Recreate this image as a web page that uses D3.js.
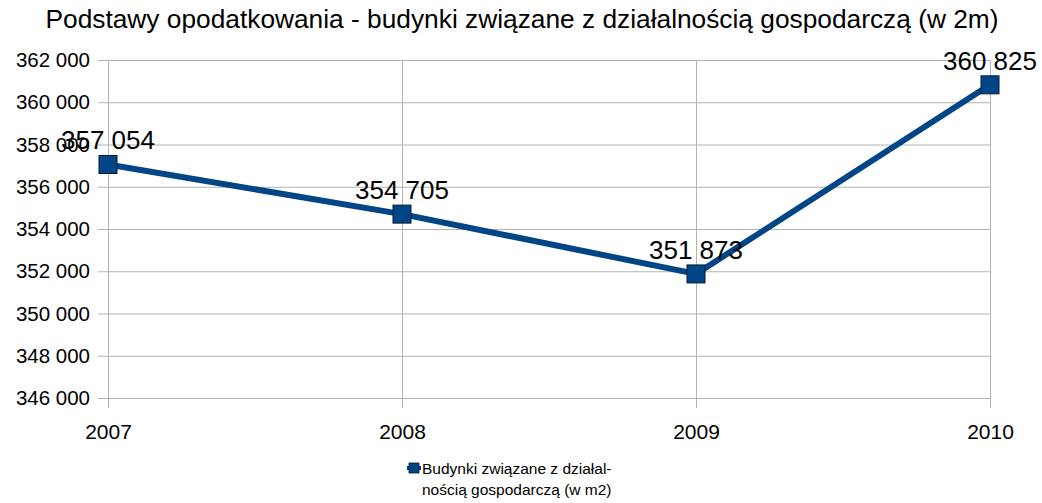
<!DOCTYPE html>
<html><head><meta charset="utf-8">
<script src="https://cdn.jsdelivr.net/npm/d3@7"></script>
<style>body{margin:0;background:#fff}svg{display:block}text{font-family:"Liberation Sans",Arial,sans-serif}</style>
</head><body><svg id="c" width="1042" height="503"></svg>
<script>
const years = ["2007","2008","2009","2010"];
const values = [357054, 354705, 351873, 360825];
const yTicks = [346000,348000,350000,352000,354000,356000,358000,360000,362000];
const title = "Podstawy opodatkowania - budynki związane z działalnością gospodarczą (w 2m)";
const legendLines = ["Budynki związane z działal-", "nością gospodarczą (w m2)"];

const svg = d3.select("#c");
const L = 108, R = 990, T = 60, B = 398;
const x = d3.scalePoint().domain(years).range([L, R]);
const y = d3.scaleLinear().domain([346000, 362000]).range([B, T]);
const fmt = v => d3.format(",")(v).replace(/,/g, " ");
const grid = "#b3b3b3", blue = "#004586";

svg.append("text").attr("x", 522).attr("y", 28).attr("text-anchor", "middle")
  .style("font-size", "26.3px").text(title);

// horizontal grid + y axis
const ya = svg.append("g").attr("transform", `translate(${L},0)`)
  .call(d3.axisLeft(y).tickValues(yTicks).tickSize(-(R - L)).tickPadding(18).tickFormat(fmt));
ya.select(".domain").remove();
ya.selectAll(".tick line").attr("stroke", grid).attr("x1", -10).attr("x2", R - L);
ya.selectAll(".tick text").attr("fill", "#000").style("font-size", "20.5px").attr("font-family", null);

// vertical grid + x axis
const xa = svg.append("g").attr("transform", `translate(0,${B})`)
  .call(d3.axisBottom(x).tickSize(0).tickPadding(26));
xa.select(".domain").remove();
xa.selectAll(".tick line").attr("stroke", grid).attr("y1", 10).attr("y2", -(B - T));
xa.selectAll(".tick text").attr("fill", "#000").style("font-size", "21px").attr("font-family", null);

// line
const data = years.map((yr, i) => ({yr, v: values[i]}));
svg.append("path").datum(data)
  .attr("d", d3.line().x(d => x(d.yr)).y(d => y(d.v)))
  .attr("fill", "none").attr("stroke", blue).attr("stroke-width", 6).attr("stroke-linejoin", "round");

svg.selectAll("rect.m").data(data).join("rect").attr("class", "m")
  .attr("x", d => x(d.yr) - 9).attr("y", d => y(d.v) - 9)
  .attr("width", 18).attr("height", 18)
  .attr("fill", blue).attr("stroke", "#0a1a33").attr("stroke-width", 1);

svg.selectAll("text.lbl").data(data).join("text").attr("class", "lbl")
  .attr("x", d => x(d.yr)).attr("y", d => y(d.v) - 15)
  .attr("text-anchor", "middle").style("font-size", "26px").text(d => fmt(d.v));

// legend
const lg = svg.append("g");
lg.append("line").attr("x1", 407).attr("x2", 421).attr("y1", 468).attr("y2", 468)
  .attr("stroke", blue).attr("stroke-width", 4);
lg.append("rect").attr("x", 409).attr("y", 463).attr("width", 10).attr("height", 10)
  .attr("fill", blue).attr("stroke", "#0a1a33").attr("stroke-width", 0.8);
lg.selectAll("text").data(legendLines).join("text")
  .attr("x", 422).attr("y", (d, i) => 474 + i * 21)
  .style("font-size", "15.5px").text(d => d);
</script></body></html>
